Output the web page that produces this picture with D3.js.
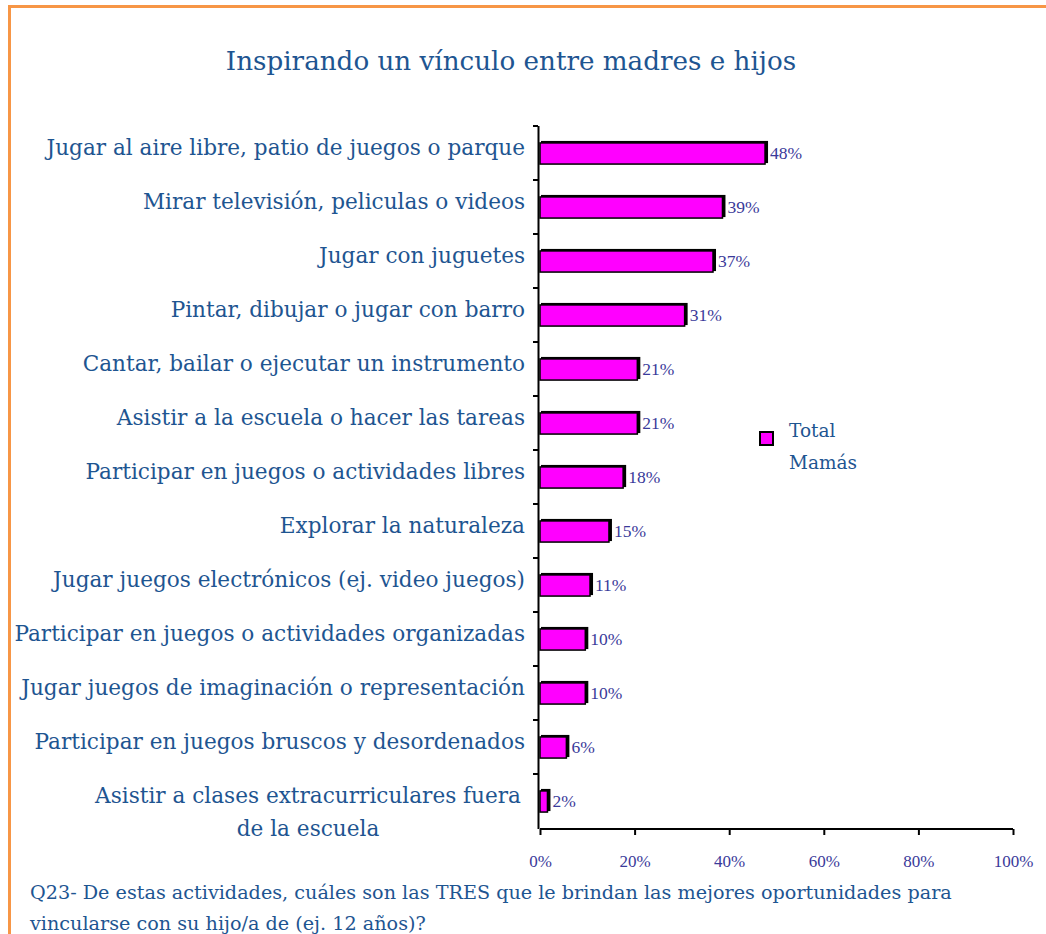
<!DOCTYPE html>
<html><head><meta charset="utf-8">
<script src="https://cdn.jsdelivr.net/npm/d3@7"></script>
<style>
html,body{margin:0;padding:0;background:#fff;}
svg{display:block;}
</style></head>
<body>
<svg id="chart" width="1046" height="934"></svg>
<script>
const categories = [
  "Jugar al aire libre, patio de juegos o parque",
  "Mirar televisión, peliculas o videos",
  "Jugar con juguetes",
  "Pintar, dibujar o jugar con barro",
  "Cantar, bailar o ejecutar un instrumento",
  "Asistir a la escuela o hacer las tareas",
  "Participar en juegos o actividades libres",
  "Explorar la naturaleza",
  "Jugar juegos electrónicos (ej. video juegos)",
  "Participar en juegos o actividades organizadas",
  "Jugar juegos de imaginación o representación",
  "Participar en juegos bruscos y desordenados",
  "Asistir a clases extracurriculares fuera|de la escuela"
];
const values = [48, 39, 37, 31, 21, 21, 18, 15, 11, 10, 10, 6, 2];
const xTicks = [0, 20, 40, 60, 80, 100];
const seriesName = ["Total", "Mamás"];
const title = "Inspirando un vínculo entre madres e hijos";
const footnote = [
  "Q23- De estas actividades, cuáles son las TRES que le brindan las mejores oportunidades para",
  "vincularse con su hijo/a de (ej. 12 años)?"
];

const svg = d3.select("#chart");
const labelColor = "#1E5591";
const numColor = "#3A3A9A";
const serif = "'DejaVu Serif', serif";
const numFont = "'Liberation Serif', 'Times New Roman', serif";

// frame
svg.append("rect").attr("x", 9.5).attr("y", 6.5).attr("width", 1100).attr("height", 1100)
  .attr("fill", "none").attr("stroke", "#F79646").attr("stroke-width", 3);

const x = d3.scaleLinear().domain([0, 100]).range([540, 1013]);
const y = d3.scaleBand().domain(d3.range(categories.length)).range([126, 828]).paddingInner(0.59).paddingOuter(0.295);
const yBand = d3.scaleBand().domain(d3.range(categories.length)).range([126, 828]);

// title
svg.append("text").attr("x", 511).attr("y", 70).attr("text-anchor", "middle")
  .attr("font-family", serif).attr("font-size", 26.2).attr("fill", labelColor).text(title);

// y axis (ticks at band boundaries)
const yAxisG = svg.append("g");
yAxisG.append("line").attr("x1", 538.5).attr("x2", 538.5).attr("y1", 126).attr("y2", 829)
  .attr("stroke", "#000").attr("stroke-width", 2);
yAxisG.selectAll("line.t").data(d3.range(categories.length)).join("line").attr("class", "t")
  .attr("x1", 533).attr("x2", 538).attr("y1", d => yBand(d)).attr("y2", d => yBand(d))
  .attr("stroke", "#000").attr("stroke-width", 2);

// x axis
const xAxis = d3.axisBottom(x).tickValues(xTicks).tickFormat(d => d + "%").tickSize(6).tickPadding(20);
const xg = svg.append("g").attr("transform", "translate(0,829)").call(xAxis);
xg.select(".domain").attr("stroke", "#000").attr("stroke-width", 2).attr("d", "M540,0H1013");
xg.selectAll(".tick line").attr("stroke", "#000").attr("stroke-width", 2);
xg.selectAll(".tick text").attr("fill", numColor).attr("font-family", numFont).attr("font-size", 17);

// bars: shadow + fill
const bars = svg.append("g");
bars.selectAll("rect.sh").data(values).join("rect").attr("class", "sh")
  .attr("x", x(0) + 1).attr("y", (d, i) => y(i) - 1)
  .attr("width", d => x(d) - x(0)).attr("height", y.bandwidth())
  .attr("fill", "#000");
bars.selectAll("rect.b").data(values).join("rect").attr("class", "b")
  .attr("x", x(0)).attr("y", (d, i) => y(i) + 1)
  .attr("width", d => x(d) - x(0) - 2).attr("height", y.bandwidth() - 1)
  .attr("fill", "#FF00FF").attr("stroke", "#000").attr("stroke-width", 1.5);

// value labels
svg.append("g").selectAll("text").data(values).join("text")
  .attr("x", d => x(d) + 3).attr("y", (d, i) => y(i) + y.bandwidth() / 2 + 6)
  .attr("font-family", numFont).attr("font-size", 17.5).attr("fill", numColor)
  .text(d => d + "%");

// category labels
const lab = svg.append("g");
const fs = 21.6;
categories.forEach((c, i) => {
  const lines = c.split("|");
  const cy = yBand(i) + yBand.bandwidth() / 2;
  if (lines.length === 1) {
    lab.append("text").attr("x", 525).attr("y", cy + 2).attr("text-anchor", "end")
      .attr("font-family", serif).attr("font-size", fs).attr("fill", labelColor).text(c);
  } else {
    const t = lab.append("text").attr("font-family", serif).attr("font-size", fs).attr("fill", labelColor);
    const first = t.append("tspan").attr("x", 0).attr("y", cy + 2).text(lines[0]);
    const w = first.node().getComputedTextLength();
    const center = 521 - w / 2;
    t.attr("text-anchor", "middle");
    first.attr("x", center);
    t.append("tspan").attr("x", center).attr("y", cy + 35).text(lines[1]);
  }
});

// legend
const lg = svg.append("g").attr("transform", "translate(760,432)");
lg.append("rect").attr("x", 0).attr("y", 0).attr("width", 13).attr("height", 13)
  .attr("fill", "#FF00FF").attr("stroke", "#000").attr("stroke-width", 2);
lg.selectAll("text").data(seriesName).join("text")
  .attr("x", 29).attr("y", (d, i) => 5 + i * 32)
  .attr("font-family", serif).attr("font-size", 18.5).attr("fill", labelColor).text(d => d);

// footnote
svg.append("g").selectAll("text").data(footnote).join("text")
  .attr("x", 30).attr("y", (d, i) => 899 + i * 31)
  .attr("font-family", serif).attr("font-size", 19.2).attr("fill", labelColor).text(d => d);
</script>
</body></html>
